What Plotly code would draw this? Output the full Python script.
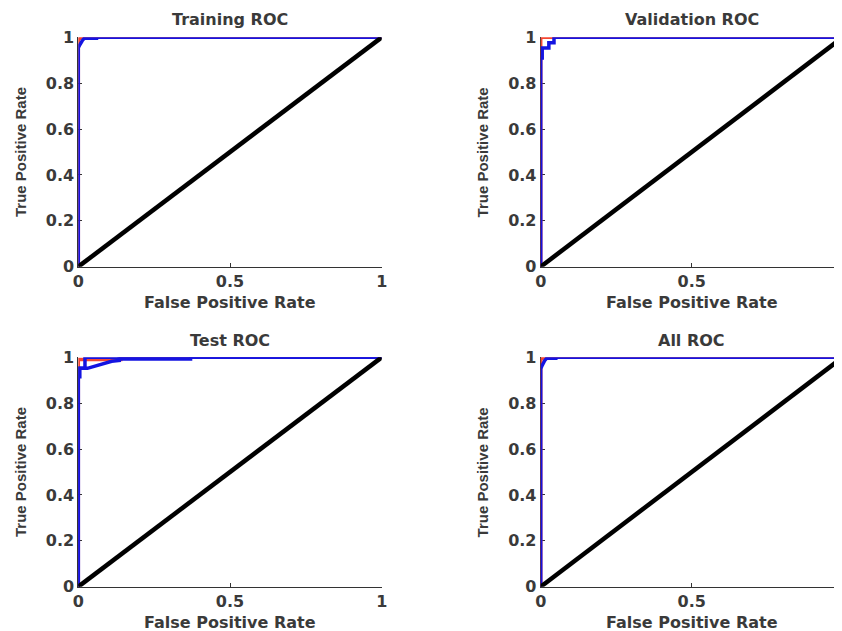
import plotly.graph_objects as go

# ---- data ----
panel_titles = ["Training ROC", "Validation ROC", "Test ROC", "All ROC"]
x_tick_vals = [0, 0.5, 1]
x_tick_text = ["0", "0.5", "1"]
y_tick_vals = [0, 0.2, 0.4, 0.6, 0.8, 1]
y_tick_text = ["0", "0.2", "0.4", "0.6", "0.8", "1"]
diag_x = [0, 1]
diag_y = [0, 1]

train_red_fpr = [0, 0, 0.01, 1]
train_red_tpr = [0, 0.99, 1, 1]
train_blue_fpr = [0, 0, 0.004, 0.008, 0.013, 0.02, 0.06, 0.06, 1]
train_blue_tpr = [0, 0.955, 0.965, 0.975, 0.985, 0.996, 0.996, 1, 1]

val_red_fpr = [0, 0, 1]
val_red_tpr = [0, 1, 1]
val_blue_fpr = [0, 0, 0.005, 0.005, 0.027, 0.027, 0.044, 0.044, 1]
val_blue_tpr = [0, 0.91, 0.91, 0.953, 0.953, 0.976, 0.976, 1, 1]

test_red_fpr = [0, 0, 0.14, 0.14, 1]
test_red_tpr = [0, 0.99, 0.99, 1, 1]
test_blue2_fpr = [0, 0, 0.022, 0.022, 1]
test_blue2_tpr = [0, 0.952, 0.952, 1, 1]
test_blue_fpr = [0, 0, 0.005, 0.005, 0.03, 0.05, 0.07, 0.09, 0.11, 0.135, 0.135, 0.37, 0.37, 1]
test_blue_tpr = [0, 0.915, 0.915, 0.952, 0.952, 0.96, 0.968, 0.977, 0.983, 0.986, 0.993, 0.993, 1, 1]

all_red_fpr = [0, 0, 0.01, 1]
all_red_tpr = [0, 0.99, 1, 1]
all_blue_fpr = [0, 0, 0.004, 0.008, 0.013, 0.02, 0.05, 0.05, 1]
all_blue_tpr = [0, 0.95, 0.962, 0.975, 0.985, 0.996, 0.996, 1, 1]

RED = "rgb(245,70,50)"
BLUE = "rgb(20,20,225)"
TXT = "#3a3a3a"

OFF = 8  # page offset of the figure div (body margin)
W, H = 842 - OFF, 631 - OFF  # figure fills the visible window exactly
# panel pixel boxes in page coords: (left, right, top, bottom)
boxes = [
    (78.3, 381.7, 37.3, 266.7),
    (540.7, 842.7, 37.3, 266.7),
    (78.3, 381.7, 357.3, 586.7),
    (540.7, 842.7, 357.3, 586.7),
]

fig = go.Figure()

curves = [
    [(train_red_fpr, train_red_tpr, RED), (train_blue_fpr, train_blue_tpr, BLUE)],
    [(val_red_fpr, val_red_tpr, RED), (val_blue_fpr, val_blue_tpr, BLUE)],
    [(test_red_fpr, test_red_tpr, RED), (test_blue2_fpr, test_blue2_tpr, BLUE), (test_blue_fpr, test_blue_tpr, BLUE)],
    [(all_red_fpr, all_red_tpr, RED), (all_blue_fpr, all_blue_tpr, BLUE)],
]

tick_font = dict(family="DejaVu Sans", size=16, color=TXT, weight="bold")

for i, (box, title, cl) in enumerate(zip(boxes, panel_titles, curves)):
    n = "" if i == 0 else str(i + 1)
    xa, ya = "x" + n, "y" + n
    l, r, t, b = [v - OFF for v in box]
    xr = 1.0
    if r > W:
        xr = (W - l) / (r - l)
        r = W
    xd = [l / W, r / W]
    yd = [1 - b / H, 1 - t / H]
    for fx, fy, col in cl:
        fig.add_trace(go.Scatter(x=fx, y=fy, mode="lines", xaxis=xa, yaxis=ya,
                                 line=dict(color=col, width=3.5), showlegend=False,
                                 hoverinfo="skip"))
    fig.add_trace(go.Scatter(x=diag_x, y=diag_y, mode="lines", xaxis=xa, yaxis=ya,
                             line=dict(color="black", width=4.5), showlegend=False,
                             hoverinfo="skip"))
    fig.layout["xaxis" + n] = dict(domain=xd, range=[0, xr], anchor=ya, showgrid=False,
                                   zeroline=False, showline=True, linecolor="#333", linewidth=1,
                                   ticks="inside", ticklen=4, tickcolor="#333",
                                   tickvals=x_tick_vals, ticktext=x_tick_text,
                                   tickfont=tick_font, layer="below traces", fixedrange=True,
                                   automargin=False)
    fig.layout["yaxis" + n] = dict(domain=yd, range=[0, 1], anchor=xa, showgrid=False,
                                   zeroline=False, showline=True, linecolor="#333", linewidth=1,
                                   ticks="inside", ticklen=4, tickcolor="#333",
                                   tickvals=y_tick_vals, ticktext=y_tick_text,
                                   tickfont=tick_font, layer="below traces", fixedrange=True,
                                   automargin=False)
    cxp = (l + (box[1] - OFF)) / 2
    cx = cxp / W
    cy = 1 - (t + b) / 2 / H
    fig.add_annotation(text=title, x=cx, y=1 - (t - 17.3) / H, xref="paper", yref="paper",
                       xanchor="center", yanchor="middle", showarrow=False,
                       font=dict(family="DejaVu Sans", size=16, color=TXT, weight="bold"))
    fig.add_annotation(text="False Positive Rate", x=cx, y=1 - (b + 35.3) / H, xref="paper", yref="paper",
                       xanchor="center", yanchor="middle", showarrow=False,
                       font=dict(family="DejaVu Sans", size=16, color=TXT, weight="bold"))
    fig.add_annotation(text="True Positive Rate", x=(l - 58.3) / W, y=cy, xref="paper", yref="paper",
                       xanchor="center", yanchor="middle", showarrow=False, textangle=-90,
                       font=dict(family="Liberation Sans", size=15, color=TXT, weight="bold"))

fig.update_layout(width=W, height=H, margin=dict(l=0, r=0, t=0, b=0, autoexpand=False),
                  paper_bgcolor="white", plot_bgcolor="white")

fig.write_html("out.html")
